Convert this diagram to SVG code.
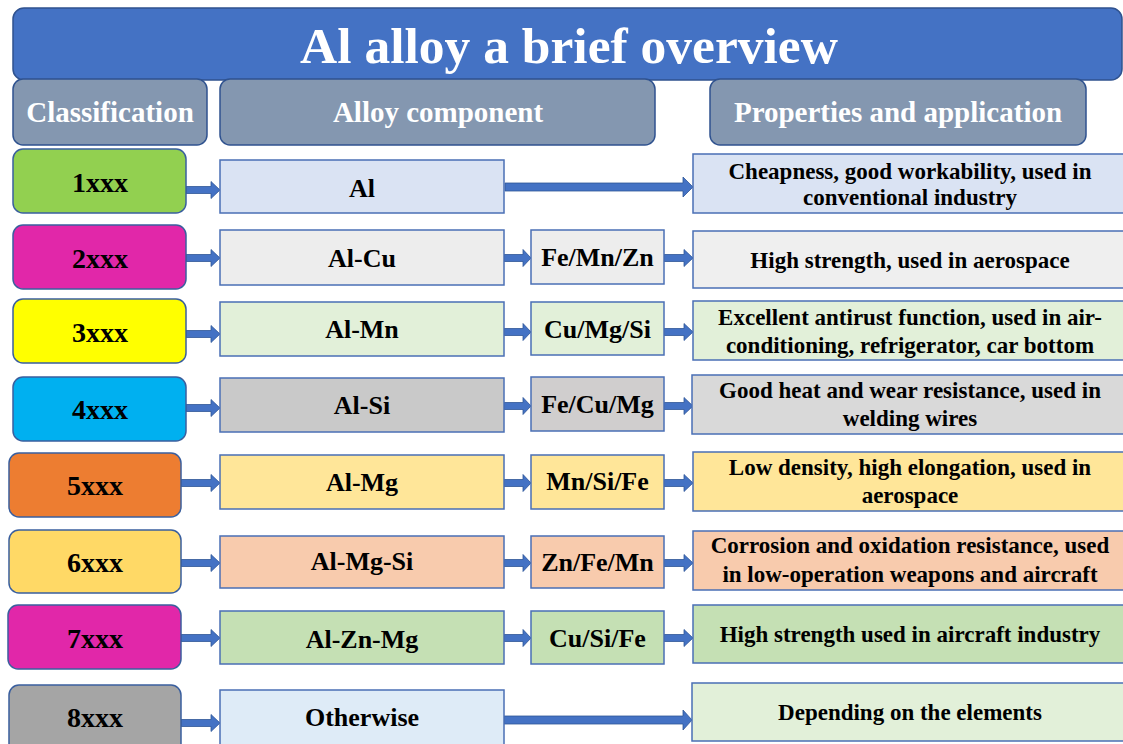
<svg xmlns="http://www.w3.org/2000/svg" width="1123" height="744" viewBox="0 0 1123 744">
  <style>
    text { font-family: "Liberation Serif", "Times New Roman", serif; font-weight: 700; text-anchor: middle; }
    .title { font-size: 51.5px; fill: #ffffff; }
    .head { font-size: 29px; fill: #ffffff; }
    .cls { font-size: 28px; fill: #000000; }
    .comp { font-size: 26px; fill: #000000; }
    .prop { font-size: 23px; fill: #000000; }
    .bar { fill: #4472C4; stroke: #2F528F; stroke-width: 1.5; }
    .hdr { fill: #8497B0; stroke: #2F528F; stroke-width: 1.5; }
    .cbox { stroke: #3A5F9E; stroke-width: 1.5; }
    .rbox { stroke: #4A6FB5; stroke-width: 1.5; }
    .arrow { fill: #4472C4; stroke: #2F5597; stroke-width: 0.8; }
  </style>

  <rect x="0" y="0" width="1123" height="744" fill="#ffffff"/>

  <!-- title bar -->
  <g id="title">
    <rect class="bar" x="13" y="8" width="1109" height="72" rx="11"/>
    <text class="title" x="569" y="63">Al alloy a brief overview</text>
  </g>

  <!-- column headers -->
  <g id="hdr-classification">
    <rect class="hdr" x="13" y="79" width="194" height="66" rx="10"/>
    <text class="head" x="110" y="122">Classification</text>
  </g>
  <g id="hdr-component">
    <rect class="hdr" x="220" y="79" width="435" height="66" rx="10"/>
    <text class="head" x="438" y="122">Alloy component</text>
  </g>
  <g id="hdr-properties">
    <rect class="hdr" x="710" y="79" width="376" height="66" rx="10"/>
    <text class="head" x="898" y="122">Properties and application</text>
  </g>

  <!-- connectors -->
  <g id="connectors">
    <!-- series box to base alloy -->
    <polygon class="arrow" points="186,186.5 211,186.5 211,181.5 220,190 211,198.5 211,193.5 186,193.5"/>
    <polygon class="arrow" points="186,254.5 211,254.5 211,249.5 220,258 211,266.5 211,261.5 186,261.5"/>
    <polygon class="arrow" points="186,330.5 211,330.5 211,325.5 220,334 211,342.5 211,337.5 186,337.5"/>
    <polygon class="arrow" points="186,404.5 211,404.5 211,399.5 220,408 211,416.5 211,411.5 186,411.5"/>
    <polygon class="arrow" points="181,479.5 211,479.5 211,474.5 220,483 211,491.5 211,486.5 181,486.5"/>
    <polygon class="arrow" points="181,559.5 211,559.5 211,554.5 220,563 211,571.5 211,566.5 181,566.5"/>
    <polygon class="arrow" points="181,634.5 211,634.5 211,629.5 220,638 211,646.5 211,641.5 181,641.5"/>
    <polygon class="arrow" points="181,719.5 211,719.5 211,714.5 220,723 211,731.5 211,726.5 181,726.5"/>

    <!-- base alloy to additions -->
    <polygon class="arrow" points="504,254.5 523,254.5 523,249.5 531,258 523,266.5 523,261.5 504,261.5"/>
    <polygon class="arrow" points="504,328.5 523,328.5 523,323.5 531,332 523,340.5 523,335.5 504,335.5"/>
    <polygon class="arrow" points="504,402.5 523,402.5 523,397.5 531,406 523,414.5 523,409.5 504,409.5"/>
    <polygon class="arrow" points="504,479.5 523,479.5 523,474.5 531,483 523,491.5 523,486.5 504,486.5"/>
    <polygon class="arrow" points="504,559.5 523,559.5 523,554.5 531,563 523,571.5 523,566.5 504,566.5"/>
    <polygon class="arrow" points="504,634.5 523,634.5 523,629.5 531,638 523,646.5 523,641.5 504,641.5"/>

    <!-- additions to properties -->
    <polygon class="arrow" points="664,254.5 684,254.5 684,249.5 693,258 684,266.5 684,261.5 664,261.5"/>
    <polygon class="arrow" points="664,328.5 684,328.5 684,323.5 693,332 684,340.5 684,335.5 664,335.5"/>
    <polygon class="arrow" points="664,402.5 684,402.5 684,397.5 693,406 684,414.5 684,409.5 664,409.5"/>
    <polygon class="arrow" points="664,479.5 684,479.5 684,474.5 693,483 684,491.5 684,486.5 664,486.5"/>
    <polygon class="arrow" points="664,559.5 684,559.5 684,554.5 693,563 684,571.5 684,566.5 664,566.5"/>
    <polygon class="arrow" points="664,634.5 684,634.5 684,629.5 693,638 684,646.5 684,641.5 664,641.5"/>

    <!-- long arrows straight to properties -->
    <polygon class="arrow" points="505,183 683,183 683,177 693,187 683,197 683,191 505,191"/>
    <polygon class="arrow" points="504,716 683,716 683,710 692,720 683,730 683,724 504,724"/>
  </g>

  <!-- row 1xxx -->
  <g id="s1xxx">
    <rect class="cbox" x="13" y="149" width="173" height="64" rx="10" fill="#92D050"/>
    <text class="cls" x="100" y="192">1xxx</text>
  </g>
  <g id="c1xxx">
    <rect class="rbox" x="220" y="160" width="284" height="53" fill="#DAE3F3"/>
    <text class="comp" x="362" y="197">Al</text>
  </g>
  <g id="p1xxx">
    <rect class="rbox" x="693" y="154" width="434" height="59" fill="#DAE3F3"/>
    <text class="prop" x="910" y="179">Cheapness, good workability, used in</text>
    <text class="prop" x="910" y="205">conventional industry</text>
  </g>

  <!-- row 2xxx -->
  <g id="s2xxx">
    <rect class="cbox" x="13" y="225" width="173" height="64" rx="10" fill="#E127A9"/>
    <text class="cls" x="100" y="268">2xxx</text>
  </g>
  <g id="c2xxx">
    <rect class="rbox" x="220" y="230" width="284" height="55" fill="#EDEDED"/>
    <text class="comp" x="362" y="267">Al-Cu</text>
  </g>
  <g id="a2xxx">
    <rect class="rbox" x="531" y="230" width="133" height="54" fill="#EDEDED"/>
    <text class="comp" x="597.5" y="266">Fe/Mn/Zn</text>
  </g>
  <g id="p2xxx">
    <rect class="rbox" x="693" y="231" width="434" height="57" fill="#EFEFEF"/>
    <text class="prop" x="910" y="268">High strength, used in aerospace</text>
  </g>

  <!-- row 3xxx -->
  <g id="s3xxx">
    <rect class="cbox" x="13" y="299" width="173" height="64" rx="10" fill="#FFFF00"/>
    <text class="cls" x="100" y="342">3xxx</text>
  </g>
  <g id="c3xxx">
    <rect class="rbox" x="220" y="302" width="284" height="54" fill="#E2F0D9"/>
    <text class="comp" x="362" y="338">Al-Mn</text>
  </g>
  <g id="a3xxx">
    <rect class="rbox" x="531" y="302" width="133" height="53" fill="#E2F0D9"/>
    <text class="comp" x="597.5" y="338">Cu/Mg/Si</text>
  </g>
  <g id="p3xxx">
    <rect class="rbox" x="693" y="301" width="434" height="59" fill="#E2F0D9"/>
    <text class="prop" x="910" y="325">Excellent antirust function, used in air-</text>
    <text class="prop" x="910" y="353">conditioning, refrigerator, car bottom</text>
  </g>

  <!-- row 4xxx -->
  <g id="s4xxx">
    <rect class="cbox" x="13" y="377" width="173" height="64" rx="10" fill="#00B0F0"/>
    <text class="cls" x="100" y="419">4xxx</text>
  </g>
  <g id="c4xxx">
    <rect class="rbox" x="220" y="378" width="284" height="54" fill="#C9C9C9"/>
    <text class="comp" x="362" y="414">Al-Si</text>
  </g>
  <g id="a4xxx">
    <rect class="rbox" x="531" y="377" width="133" height="54" fill="#D0CECE"/>
    <text class="comp" x="597.5" y="413">Fe/Cu/Mg</text>
  </g>
  <g id="p4xxx">
    <rect class="rbox" x="692" y="375" width="435" height="59" fill="#D9D9D9"/>
    <text class="prop" x="910" y="398">Good heat and wear resistance, used in</text>
    <text class="prop" x="910" y="426">welding wires</text>
  </g>

  <!-- row 5xxx -->
  <g id="s5xxx">
    <rect class="cbox" x="9" y="453" width="172" height="64" rx="10" fill="#ED7D31"/>
    <text class="cls" x="95" y="495">5xxx</text>
  </g>
  <g id="c5xxx">
    <rect class="rbox" x="220" y="455" width="284" height="54" fill="#FFE699"/>
    <text class="comp" x="362" y="491">Al-Mg</text>
  </g>
  <g id="a5xxx">
    <rect class="rbox" x="531" y="455" width="133" height="54" fill="#FFE699"/>
    <text class="comp" x="597.5" y="490">Mn/Si/Fe</text>
  </g>
  <g id="p5xxx">
    <rect class="rbox" x="693" y="452" width="434" height="59" fill="#FFE699"/>
    <text class="prop" x="910" y="475">Low density, high elongation, used in</text>
    <text class="prop" x="910" y="503">aerospace</text>
  </g>

  <!-- row 6xxx -->
  <g id="s6xxx">
    <rect class="cbox" x="9" y="530" width="172" height="63" rx="10" fill="#FFD966"/>
    <text class="cls" x="95" y="572">6xxx</text>
  </g>
  <g id="c6xxx">
    <rect class="rbox" x="220" y="536" width="284" height="52" fill="#F8CBAD"/>
    <text class="comp" x="362" y="570">Al-Mg-Si</text>
  </g>
  <g id="a6xxx">
    <rect class="rbox" x="531" y="536" width="133" height="52" fill="#F8CBAD"/>
    <text class="comp" x="597.5" y="571">Zn/Fe/Mn</text>
  </g>
  <g id="p6xxx">
    <rect class="rbox" x="693" y="531" width="434" height="59" fill="#F8CBAD"/>
    <text class="prop" x="910" y="553">Corrosion and oxidation resistance, used</text>
    <text class="prop" x="910" y="582">in low-operation weapons and aircraft</text>
  </g>

  <!-- row 7xxx -->
  <g id="s7xxx">
    <rect class="cbox" x="8" y="605" width="173" height="64" rx="10" fill="#E127A9"/>
    <text class="cls" x="95" y="648">7xxx</text>
  </g>
  <g id="c7xxx">
    <rect class="rbox" x="220" y="611" width="284" height="53" fill="#C5E0B4"/>
    <text class="comp" x="362" y="648">Al-Zn-Mg</text>
  </g>
  <g id="a7xxx">
    <rect class="rbox" x="531" y="611" width="133" height="53" fill="#C5E0B4"/>
    <text class="comp" x="597.5" y="647">Cu/Si/Fe</text>
  </g>
  <g id="p7xxx">
    <rect class="rbox" x="693" y="605" width="434" height="58" fill="#C5E0B4"/>
    <text class="prop" x="910" y="642">High strength used in aircraft industry</text>
  </g>

  <!-- row 8xxx -->
  <g id="s8xxx">
    <rect class="cbox" x="9" y="685" width="172" height="70" rx="10" fill="#A5A5A5"/>
    <text class="cls" x="95" y="727">8xxx</text>
  </g>
  <g id="c8xxx">
    <rect class="rbox" x="220" y="690" width="284" height="60" fill="#DEEBF7"/>
    <text class="comp" x="362" y="726">Otherwise</text>
  </g>
  <g id="p8xxx">
    <rect class="rbox" x="692" y="683" width="435" height="58" fill="#E2F0D9"/>
    <text class="prop" x="910" y="720">Depending on the elements</text>
  </g>
</svg>
